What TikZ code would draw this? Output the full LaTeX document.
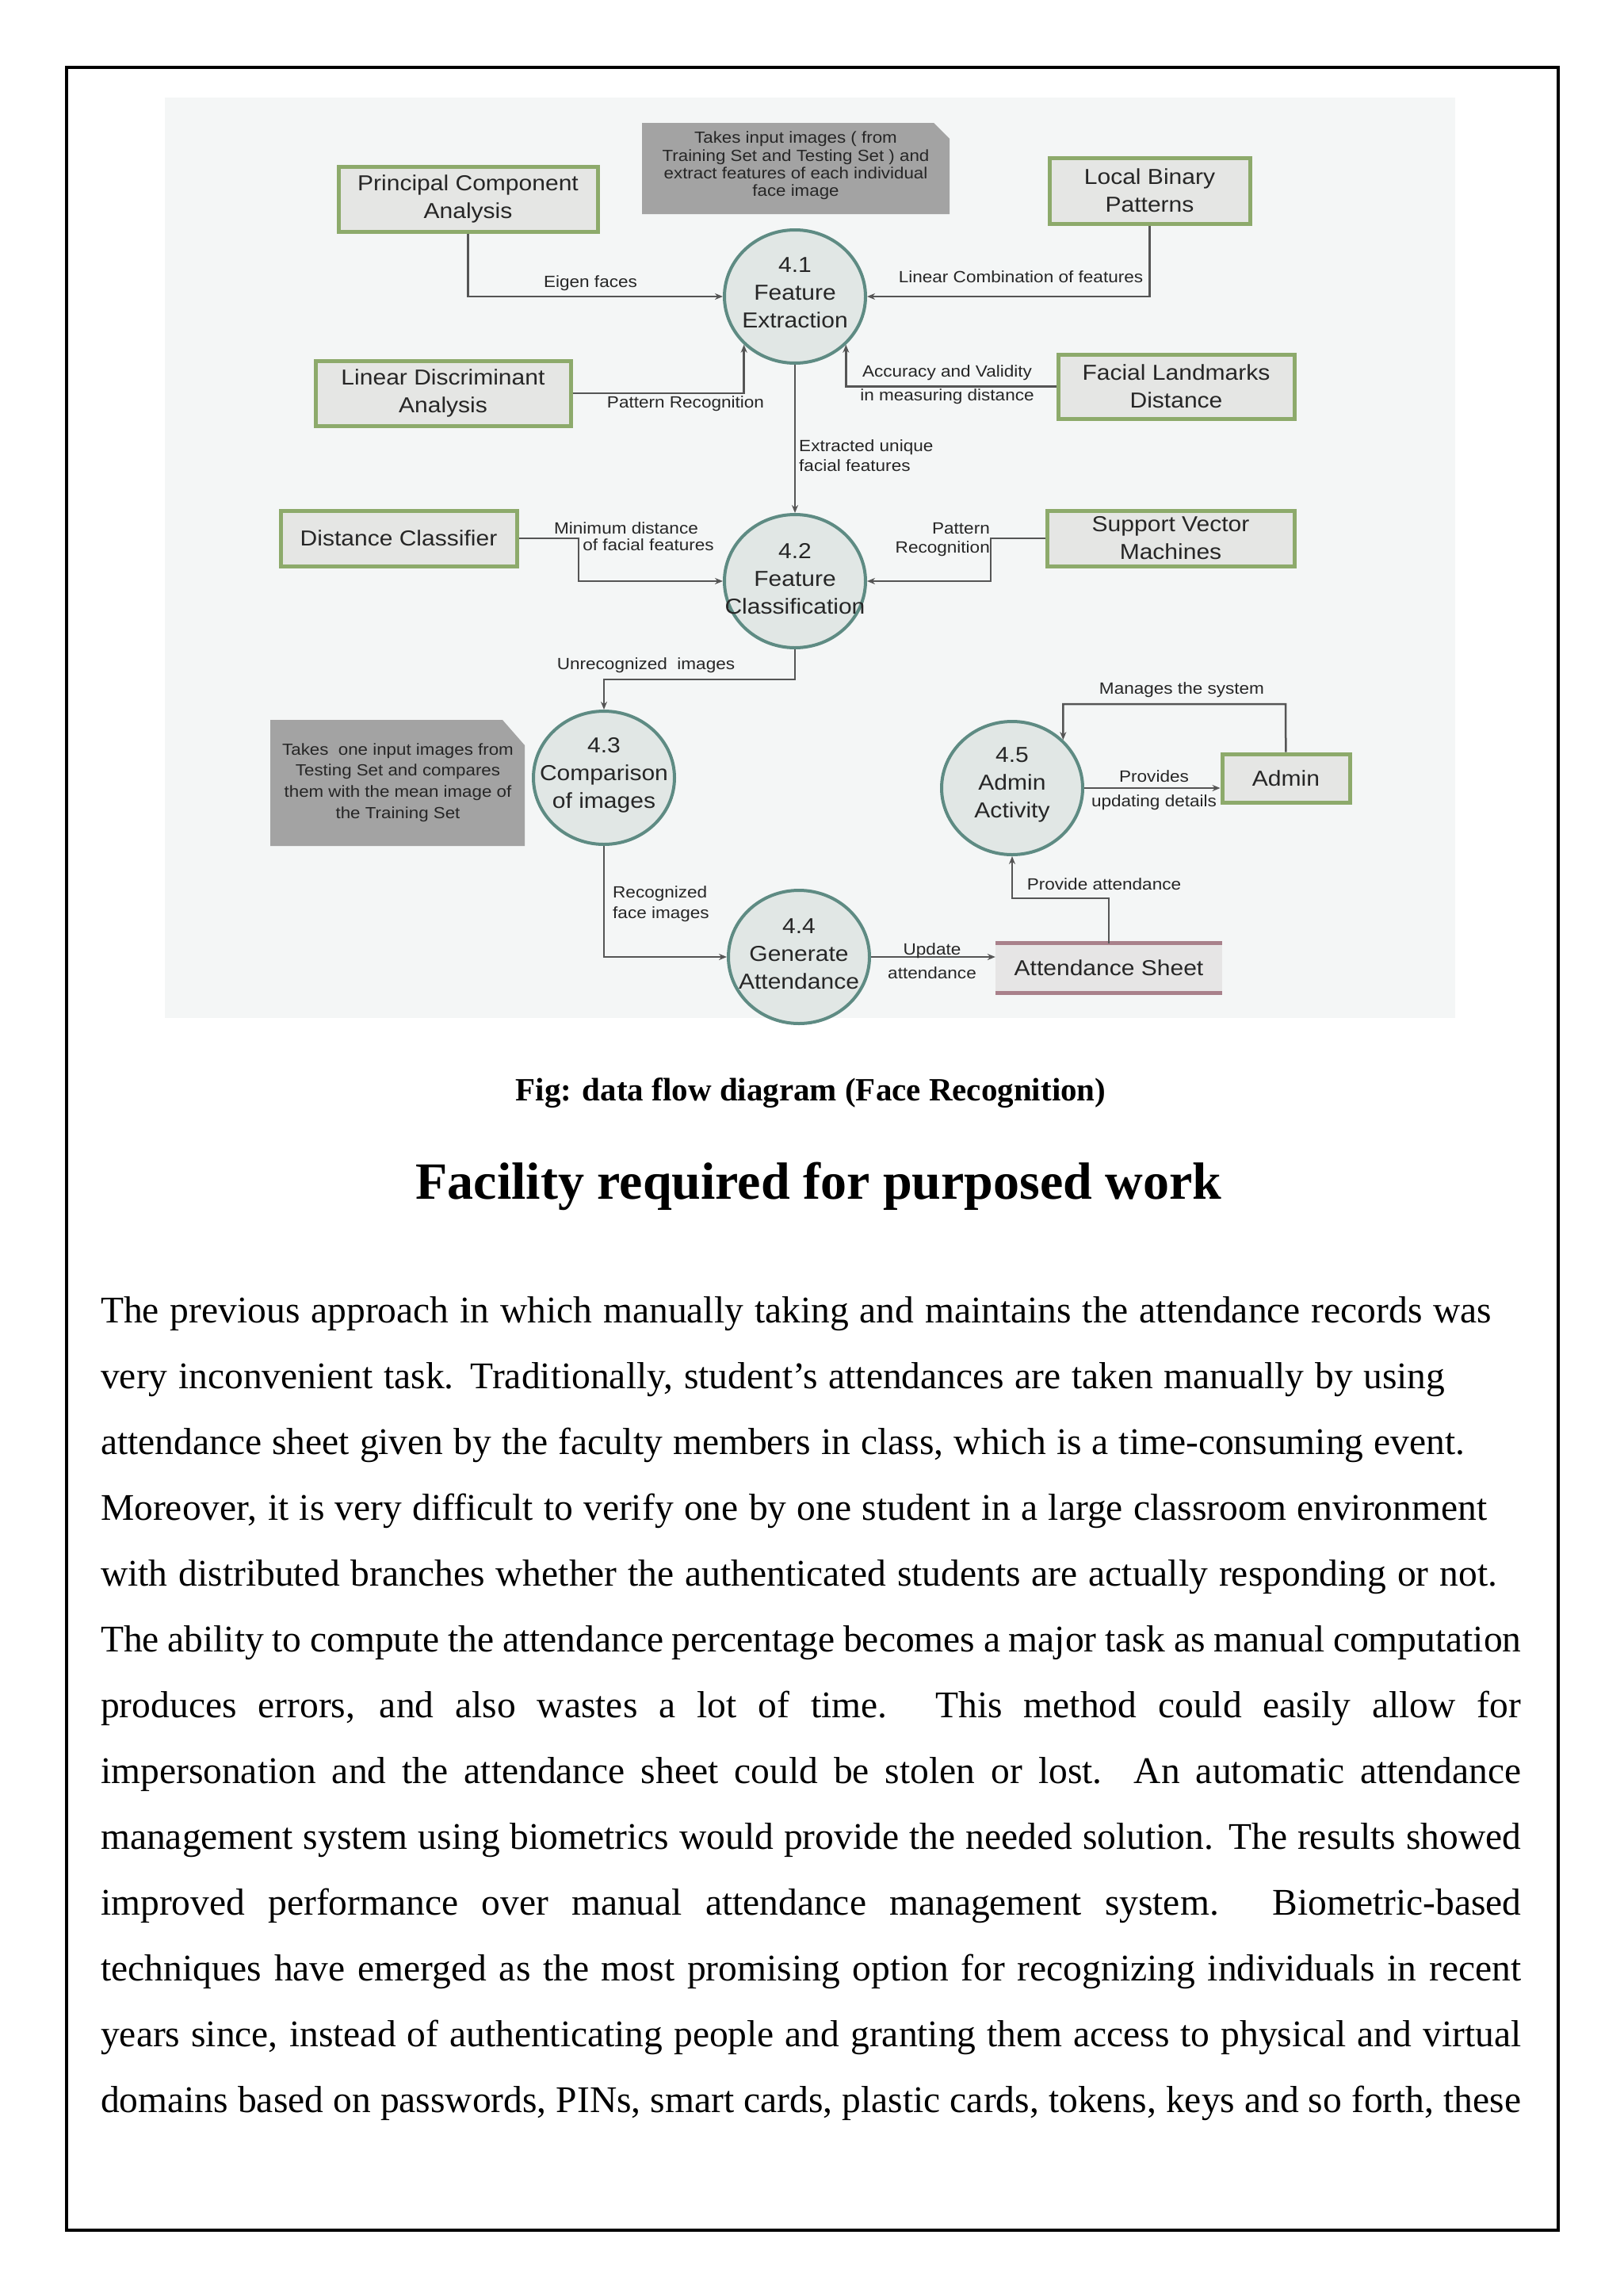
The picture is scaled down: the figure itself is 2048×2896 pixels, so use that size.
\documentclass[tikz,border=0pt]{standalone}
\usepackage{fontspec}
\setmainfont{Liberation Serif}
\newfontfamily\dfont[FakeStretch=1.1]{Liberation Sans}
\usetikzlibrary{shapes.geometric,arrows.meta}
\definecolor{boxfill}{HTML}{E5E6E4}
\definecolor{boxline}{HTML}{8DAA6B}
\definecolor{circfill}{HTML}{E1E7E5}
\definecolor{circline}{HTML}{5E8B83}
\definecolor{notefill}{HTML}{A3A3A3}
\definecolor{flowcol}{HTML}{555555}
\definecolor{dtext}{HTML}{262626}
\definecolor{diagbg}{HTML}{F4F6F6}
\definecolor{sheetline}{HTML}{A9818B}
\definecolor{sheetfill}{HTML}{E6E5E5}
\newcommand\bxfont{\dfont\fontsize{27.3}{35}\selectfont}
\newcommand\lblfnt{\dfont\fontsize{20.5}{25}\selectfont}
\newcommand\ntfnt{\dfont\fontsize{20.3}{22.3}\selectfont}
\newcommand\bdfnt{\fontsize{47.5}{57}\selectfont}
\begin{document}
\begin{tikzpicture}[x=1pt,y=-1pt,
  box/.style={draw=boxline, line width=5pt, fill=boxfill, inner sep=0pt, align=center, font=\bxfont, text=dtext},
  proc/.style={ellipse, draw=circline, line width=4pt, fill=circfill, minimum width=178pt, minimum height=168pt, inner sep=0pt},
  ptext/.style={align=center, font=\bxfont, text=dtext, inner sep=0pt},
  lbl/.style={align=center, font=\lblfnt, text=dtext, inner sep=0pt},
  ntext/.style={align=center, font=\ntfnt, text=dtext, inner sep=0pt},
  flow/.style={draw=flowcol, line width=2.5pt, -{Stealth[length=10pt,width=8pt]}},
  bodyline/.style={anchor=base west, inner sep=0pt, font=\bdfnt}
]
\useasboundingbox (0,0) rectangle (2048,2896);
\fill[white] (0,0) rectangle (2048,2896);
\draw[line width=4pt] (84,85) rectangle (1966,2813);
\fill[diagbg] (208,123) rectangle (1836,1284);

% notes
\fill[notefill] (810,155) -- (1178,155) -- (1198,175) -- (1198,270) -- (810,270) -- cycle;
\node[ntext] (note1) at (1004,209) {Takes input images ( from\\Training Set and Testing Set ) and\\extract features of each individual\\face image};
\fill[notefill] (341,908) -- (634,908) -- (662,940) -- (662,1067) -- (341,1067) -- cycle;
\node[ntext, font=\dfont\fontsize{20.3}{26.7}\selectfont] (note2) at (502,987) {Takes \ one input images from\\Testing Set and compares\\them with the mean image of\\the Training Set};

% external boxes
\node[box, minimum width=327pt, minimum height=82pt] (pca) at (590.5,251) {Principal Component\\Analysis};
\node[box, minimum width=253pt, minimum height=83pt] (lbp) at (1450.5,240.5) {Local Binary\\Patterns};
\node[box, minimum width=322pt, minimum height=82pt] (lda) at (559,496) {Linear Discriminant\\Analysis};
\node[box, minimum width=298pt, minimum height=81pt] (fld) at (1484,487.5) {Facial Landmarks\\Distance};
\node[box, minimum width=298pt, minimum height=70pt] (dc) at (503,679) {Distance Classifier};
\node[box, minimum width=312pt, minimum height=70pt] (svm) at (1477,679) {Support Vector\\Machines};
\node[box, minimum width=161pt, minimum height=61pt] (admin) at (1622.5,981.5) {Admin};
\node[fill=sheetfill, minimum width=286pt, minimum height=62pt, inner sep=0pt, font=\bxfont, text=dtext] (sheet) at (1399,1221) {Attendance Sheet};
\draw[sheetline, line width=5pt] (sheet.north west) -- (sheet.north east);
\draw[sheetline, line width=5pt] (sheet.south west) -- (sheet.south east);

% processes
\node[proc] (c41) at (1003,374) {};
\node[ptext] (c41t) at ([yshift=5pt]c41.center) {4.1\\Feature\\Extraction};
\node[proc] (c42) at (1003,733) {};
\node[ptext] (c42t) at ([yshift=3pt]c42.center) {4.2\\Feature\\Classification};
\node[proc] (c43) at (762,981) {};
\node[ptext] (c43t) at ([yshift=3pt]c43.center) {4.3\\Comparison\\of images};
\node[proc] (c44) at (1008,1207) {};
\node[ptext] (c44t) at ([yshift=4pt]c44.center) {4.4\\Generate\\Attendance};
\node[proc] (c45) at (1277,994) {};
\node[ptext] (c45t) at ([yshift=4pt]c45.center) {4.5\\Admin\\Activity};

% bend coordinates
\coordinate (dcbend) at (730,679);
\coordinate (svmbend) at (1250,679);
\coordinate (unrec) at (1003,857);
\coordinate (provbend) at (1399,1133);
\coordinate (mgbend) at (1622,888);

% flows
\draw[flow] (pca) |- (c41);
\draw[flow] (lbp) |- (c41);
\draw[flow] (lda.east) -| (c41.south west);
\draw[flow] (fld.west) -| (c41.south east);
\draw[flow] (c41) -- (c42);
\draw[flow] (dc.east) -- (dcbend) |- (c42);
\draw[flow] (svm.west) -- (svmbend) |- (c42);
\draw[flow] (c42) -- (unrec) -| (c43);
\draw[flow] (c43) |- (c44);
\draw[flow] (c44) -- (c44 -| sheet.west);
\draw[flow] (sheet) -- (provbend) -| (c45);
\draw[flow] (c45) -- (c45 -| admin.west);
\draw[flow] (admin) -- (mgbend) -| (c45.north east);

% labels
\node[lbl] (lEig) at (745,357) {Eigen faces};
\node[lbl] (lLbp) at (1288,349) {Linear Combination of features};
\node[lbl] (lLda) at (865,509) {Pattern Recognition};
\node[lbl, font=\dfont\fontsize{20.5}{30}\selectfont] (lFld) at (1195,485) {Accuracy and Validity\\in measuring distance};
\node[lbl, anchor=west, align=left] (lExt) at (1008,575) {Extracted unique\\facial features};
\node[lbl] (lMin1) at (790,666) {Minimum distance};
\node[lbl] (lMin2) at (818,687) {of facial features};
\node[lbl, anchor=east, align=right, font=\dfont\fontsize{20.5}{24}\selectfont] (lPat) at (1249,681) {Pattern\\Recognition};
\node[lbl] (lUnr) at (815,839) {Unrecognized \ images};
\node[lbl, anchor=west, align=left, font=\dfont\fontsize{20.5}{26}\selectfont] (lRec) at (773,1140) {Recognized\\face images};
\node[lbl, font=\dfont\fontsize{20.5}{30}\selectfont] (lUpd) at (1176,1212) {Update\\attendance};
\node[lbl] (lPrv) at (1393,1115) {Provide attendance};
\node[lbl, font=\dfont\fontsize{20.5}{31}\selectfont] (lPrs) at (1456,997) {Provides\\updating details};
\node[lbl] (lMng) at (1491,870) {Manages the system};

% caption and heading
\node[anchor=base, inner sep=0pt] (cap) at (1023,1388) {\fontsize{41}{49}\selectfont\bfseries Fig: data flow diagram (Face Recognition)};
\node[anchor=base, inner sep=0pt] (head) at (1033,1512) {\fontsize{66}{79}\selectfont\bfseries Facility required for purposed work};

% body text
\node[bodyline] (b1) at (127,1668) {\makebox[1755pt][s]{The previous approach in which manually taking and maintains the attendance records was}};
\node[bodyline] (b2) at (127,1751) {\makebox[1696pt][s]{very inconvenient task. Traditionally, student’s attendances are taken manually by using}};
\node[bodyline] (b3) at (127,1834) {\makebox[1721pt][s]{attendance sheet given by the faculty members in class, which is a time-consuming event.}};
\node[bodyline] (b4) at (127,1917) {\makebox[1749pt][s]{Moreover, it is very difficult to verify one by one student in a large classroom environment}};
\node[bodyline] (b5) at (127,2000) {\makebox[1762pt][s]{with distributed branches whether the authenticated students are actually responding or not.}};
\node[bodyline] (b6) at (127,2083) {\makebox[1792pt][s]{The ability to compute the attendance percentage becomes a major task as manual computation}};
\node[bodyline] (b7) at (127,2166) {\makebox[1792pt][s]{produces errors, and also wastes a lot of time. This method could easily allow for}};
\node[bodyline] (b8) at (127,2249) {\makebox[1792pt][s]{impersonation and the attendance sheet could be stolen or lost. An automatic attendance}};
\node[bodyline] (b9) at (127,2332) {\makebox[1792pt][s]{management system using biometrics would provide the needed solution. The results showed}};
\node[bodyline] (b10) at (127,2415) {\makebox[1792pt][s]{improved performance over manual attendance management system. Biometric-based}};
\node[bodyline] (b11) at (127,2498) {\makebox[1792pt][s]{techniques have emerged as the most promising option for recognizing individuals in recent}};
\node[bodyline] (b12) at (127,2581) {\makebox[1792pt][s]{years since, instead of authenticating people and granting them access to physical and virtual}};
\node[bodyline] (b13) at (127,2664) {\makebox[1792pt][s]{domains based on passwords, PINs, smart cards, plastic cards, tokens, keys and so forth, these}};
\end{tikzpicture}
\end{document}
